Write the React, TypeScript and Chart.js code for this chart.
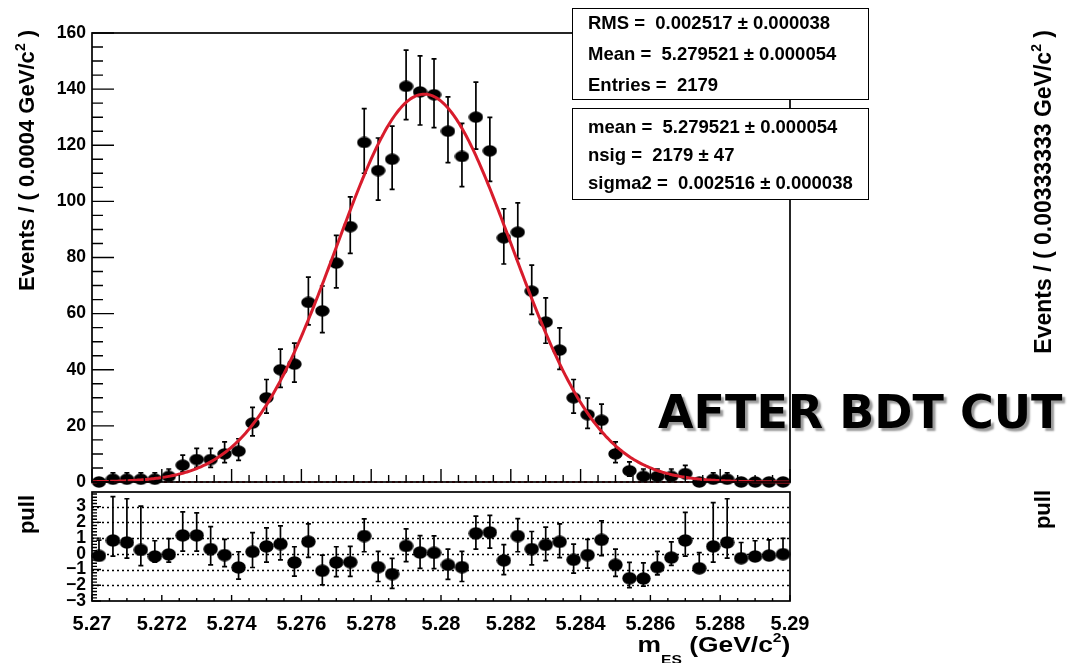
import React, { useEffect, useRef } from "react";
import { Chart, registerables } from "chart.js";

Chart.register(...registerables);

const FONT = "'Liberation Sans', Arial, Helvetica, sans-serif";
const RED = "#d81c2c";

// m_ES bin centres (GeV/c^2): 50 bins of 0.0004 between 5.27 and 5.29
const binCenters = [
  5.2702, 5.2706, 5.271, 5.2714, 5.2718, 5.2722, 5.2726, 5.273, 5.2734, 5.2738,
  5.2742, 5.2746, 5.275, 5.2754, 5.2758, 5.2762, 5.2766, 5.277, 5.2774, 5.2778,
  5.2782, 5.2786, 5.279, 5.2794, 5.2798, 5.2802, 5.2806, 5.281, 5.2814, 5.2818,
  5.2822, 5.2826, 5.283, 5.2834, 5.2838, 5.2842, 5.2846, 5.285, 5.2854, 5.2858,
  5.2862, 5.2866, 5.287, 5.2874, 5.2878, 5.2882, 5.2886, 5.289, 5.2894, 5.2898,
];

// events per bin
const counts = [
  0, 1, 1, 1, 1, 2, 6, 8, 8, 10,
  11, 21, 30, 40, 42, 64, 61, 78, 91, 121,
  111, 115, 141, 139, 138, 125, 116, 130, 118, 87,
  89, 68, 57, 47, 30, 24, 22, 10, 4, 2,
  2, 2, 3, 0, 1, 1, 0, 0, 0, 0,
];

// asymmetric Poisson errors on the counts
const countErrLow = [
  0, 0.83, 0.83, 0.83, 0.83, 1.29, 2.38, 2.77, 2.77, 3.11,
  3.27, 4.55, 5.45, 6.29, 6.44, 7.98, 7.79, 8.8, 9.52, 10.98,
  10.53, 10.72, 11.87, 11.79, 11.74, 11.18, 10.77, 11.4, 10.86, 9.32,
  9.43, 8.24, 7.55, 6.85, 5.45, 4.86, 4.65, 3.11, 1.91, 1.29,
  1.29, 1.29, 1.63, 0, 0.83, 0.83, 0, 0, 0, 0,
];
const countErrHigh = [
  1.15, 2.3, 2.3, 2.3, 2.3, 2.64, 3.58, 3.95, 3.95, 4.27,
  4.42, 5.62, 6.52, 7.35, 7.51, 9.04, 8.85, 9.86, 10.58, 12.04,
  11.59, 11.78, 12.93, 12.85, 12.8, 12.24, 11.83, 12.46, 11.92, 10.38,
  10.49, 9.3, 8.61, 7.91, 6.52, 5.93, 5.72, 4.27, 3.16, 2.64,
  2.64, 2.64, 2.92, 1.15, 2.3, 2.3, 1.15, 1.15, 1.15, 1.15,
];

// pull per bin and its error bars
const pulls = [
  -0.13, 0.85, 0.72, 0.25, -0.17, -0.04, 1.17, 1.17, 0.3, -0.08,
  -0.87, 0.13, 0.47, 0.62, -0.55, 0.77, -1.08, -0.55, -0.53, 1.13,
  -0.85, -1.29, 0.5, 0.08, 0.06, -0.7, -0.85, 1.3, 1.36, -0.42,
  1.13, 0.3, 0.57, 0.76, -0.38, -0.08, 0.89, -0.7, -1.55, -1.57,
  -0.85, -0.24, 0.85, -0.92, 0.47, 0.72, -0.28, -0.17, -0.11, -0.02,
];
const pullErrLow = [
  0, 1, 1, 1, 0.36, 0.49, 1, 1, 1, 0.73,
  0.74, 1, 1, 1, 0.87, 1, 0.89, 0.9, 0.9, 1,
  0.91, 0.91, 1, 1, 1, 0.92, 0.91, 1, 1, 0.9,
  1, 1, 1, 1, 0.85, 0.83, 1, 0.73, 0.6, 0.49,
  0.49, 0.49, 1, 0, 1, 1, 0, 0, 0, 0,
];
const pullErrHigh = [
  1, 2.78, 2.78, 2.78, 1, 1, 1.5, 1.43, 1.43, 1,
  1, 1.22, 1.18, 1.16, 1, 1.13, 1, 1, 1, 1.09,
  1, 1, 1.08, 1.08, 1.08, 1, 1, 1.09, 1.09, 1,
  1.11, 1.12, 1.13, 1.14, 1, 1, 1.21, 1, 1, 1,
  1, 1, 1.79, 1, 2.78, 2.78, 1, 1, 1, 1,
];

const eventTicks = [0, 20, 40, 60, 80, 100, 120, 140, 160];
const pullTicks = [-3, -2, -1, 0, 1, 2, 3];
const pullGridLines = [-2, -1, 0, 1, 2, 3];
const massTicks = [5.27, 5.272, 5.274, 5.276, 5.278, 5.28, 5.282, 5.284, 5.286, 5.288, 5.29];
const massTickLabels = ["5.27", "5.272", "5.274", "5.276", "5.278", "5.28", "5.282", "5.284", "5.286", "5.288", "5.29"];

// fit result
const massMin = 5.27;
const massMax = 5.29;
const binWidth = 0.0004;
const fitMean = 5.279521;
const fitSigma = 0.002516;
const fitYield = 2179;

// Gaussian signal shape scaled to events per bin
function fitCurve() {
  const norm = (fitYield * binWidth) / (fitSigma * Math.sqrt(2 * Math.PI));
  const pts: { x: number; y: number }[] = [];
  const n = 500;
  for (let i = 0; i <= n; i++) {
    const x = massMin + ((massMax - massMin) * i) / n;
    const z = (x - fitMean) / fitSigma;
    pts.push({ x, y: norm * Math.exp(-0.5 * z * z) });
  }
  return pts;
}

function range(from: number, to: number, step: number) {
  const out: number[] = [];
  const n = Math.round((to - from) / step);
  for (let i = 0; i <= n; i++) out.push(+(from + i * step).toFixed(6));
  return out;
}

// slightly wide filled marker, as on the stretched ROOT canvas
function makeMarker(w: number, h: number) {
  const c = document.createElement("canvas");
  c.width = w;
  c.height = h;
  const g = c.getContext("2d")!;
  g.fillStyle = "#000";
  g.beginPath();
  g.ellipse(w / 2, h / 2, w / 2 - 0.3, h / 2 - 0.3, 0, 0, Math.PI * 2);
  g.fill();
  return c;
}

function errorBarPlugin(lo: number[], hi: number[], ys: number[]) {
  return {
    id: "errorBars",
    beforeDatasetsDraw(chart: any) {
      const { ctx } = chart;
      const x = chart.scales.x;
      const y = chart.scales.y;
      ctx.save();
      ctx.strokeStyle = "#000";
      ctx.lineWidth = 1.7;
      ctx.beginPath();
      for (let i = 0; i < binCenters.length; i++) {
        const px = x.getPixelForValue(binCenters[i]);
        const top = y.getPixelForValue(ys[i] + hi[i]);
        const bot = y.getPixelForValue(ys[i] - lo[i]);
        ctx.moveTo(px, top);
        ctx.lineTo(px, bot);
        if (hi[i] > 0) {
          ctx.moveTo(px - 2.5, top);
          ctx.lineTo(px + 2.5, top);
        }
        if (lo[i] > 0) {
          ctx.moveTo(px - 2.5, bot);
          ctx.lineTo(px + 2.5, bot);
        }
      }
      ctx.stroke();
      ctx.restore();
    },
  };
}

type FrameSpec = {
  yMajor: number[];
  yMinor: number[];
  yMajorLen: number;
  yMinorLen: number;
  xMajor: number[];
  xMinor: number[];
  xMajorLen: number;
  xMinorLen: number;
  dotted?: number[];
};

function framePlugin(spec: FrameSpec) {
  return {
    id: "rootFrame",
    beforeDatasetsDraw(chart: any) {
      if (!spec.dotted) return;
      const { ctx, chartArea } = chart;
      const y = chart.scales.y;
      ctx.save();
      ctx.strokeStyle = "#000";
      ctx.lineWidth = 1.3;
      ctx.setLineDash([2, 3]);
      for (const v of spec.dotted) {
        const py = Math.round(y.getPixelForValue(v)) + 0.5;
        ctx.beginPath();
        ctx.moveTo(chartArea.left, py);
        ctx.lineTo(chartArea.right, py);
        ctx.stroke();
      }
      ctx.restore();
    },
    afterDraw(chart: any) {
      const { ctx, chartArea } = chart;
      const x = chart.scales.x;
      const y = chart.scales.y;
      const { left, right, top, bottom } = chartArea;
      ctx.save();
      ctx.strokeStyle = "#000";
      ctx.lineWidth = 1.4;
      ctx.beginPath();
      for (const v of spec.yMinor) {
        const py = y.getPixelForValue(v);
        ctx.moveTo(left, py);
        ctx.lineTo(left + spec.yMinorLen, py);
      }
      for (const v of spec.yMajor) {
        const py = y.getPixelForValue(v);
        ctx.moveTo(left, py);
        ctx.lineTo(left + spec.yMajorLen, py);
      }
      for (const v of spec.xMinor) {
        const px = x.getPixelForValue(v);
        ctx.moveTo(px, bottom);
        ctx.lineTo(px, bottom - spec.xMinorLen);
      }
      for (const v of spec.xMajor) {
        const px = x.getPixelForValue(v);
        ctx.moveTo(px, bottom);
        ctx.lineTo(px, bottom - spec.xMajorLen);
      }
      ctx.stroke();
      ctx.lineWidth = 1.7;
      ctx.strokeRect(left, top, right - left, bottom - top);
      ctx.restore();
    },
  };
}

const W = 1069;
const H = 663;
const PLOT_LEFT = 92;
const PLOT_RIGHT = 790;

const yTickFont = { family: FONT, weight: "bold" as const, size: 17.5 };
const xTickFont = { family: FONT, weight: "bold" as const, size: 20 };

function EventsChart() {
  const ref = useRef<HTMLCanvasElement>(null);
  useEffect(() => {
    const marker = makeMarker(15, 12);
    const chart = new Chart(ref.current!, {
      type: "scatter",
      data: {
        datasets: [
          {
            label: "fit",
            data: fitCurve(),
            showLine: true,
            borderColor: RED,
            borderWidth: 3,
            pointRadius: 0,
            clip: false,
          } as any,
          {
            label: "data",
            data: binCenters.map((x, i) => ({ x, y: counts[i] })),
            pointStyle: marker,
            pointRadius: 6,
            clip: false,
          } as any,
          {
            label: "background",
            data: [
              { x: massMin, y: 0 },
              { x: massMax, y: 0 },
            ],
            showLine: true,
            borderColor: RED,
            borderWidth: 2,
            borderDash: [3, 3],
            pointRadius: 0,
            clip: false,
          } as any,
        ],
      },
      options: {
        animation: false,
        responsive: false,
        events: [],
        layout: { padding: { left: 0, top: 33, right: W - PLOT_RIGHT, bottom: H - 482 } },
        plugins: { legend: { display: false }, tooltip: { enabled: false } },
        scales: {
          x: { type: "linear", min: massMin, max: massMax, display: false },
          y: {
            type: "linear",
            min: 0,
            max: 160,
            afterFit: (s: any) => {
              s.width = PLOT_LEFT;
            },
            afterBuildTicks: (s: any) => {
              s.ticks = eventTicks.map((value) => ({ value }));
            },
            grid: { display: false, drawTicks: false },
            border: { display: false },
            ticks: { font: yTickFont, color: "#000", padding: 6, autoSkip: false },
          },
        },
      },
      plugins: [
        errorBarPlugin(countErrLow, countErrHigh, counts),
        framePlugin({
          yMajor: eventTicks,
          yMinor: range(0, 160, 5),
          yMajorLen: 22,
          yMinorLen: 11,
          xMajor: massTicks,
          xMinor: range(massMin, massMax, 0.0005),
          xMajorLen: 13,
          xMinorLen: 7,
        }),
      ],
    });
    return () => chart.destroy();
  }, []);
  return (
    <canvas
      ref={ref}
      width={W}
      height={H}
      style={{ position: "absolute", left: 0, top: 0, width: W, height: H }}
    />
  );
}

function PullChart() {
  const ref = useRef<HTMLCanvasElement>(null);
  useEffect(() => {
    const marker = makeMarker(15, 13);
    const chart = new Chart(ref.current!, {
      type: "scatter",
      data: {
        datasets: [
          {
            label: "pull",
            data: binCenters.map((x, i) => ({ x, y: pulls[i] })),
            pointStyle: marker,
            pointRadius: 6,
            clip: false,
          } as any,
        ],
      },
      options: {
        animation: false,
        responsive: false,
        events: [],
        layout: { padding: { left: 0, top: 492, right: W - PLOT_RIGHT, bottom: 0 } },
        plugins: { legend: { display: false }, tooltip: { enabled: false } },
        scales: {
          x: {
            type: "linear",
            min: massMin,
            max: massMax,
            afterFit: (s: any) => {
              s.height = H - 601;
            },
            afterBuildTicks: (s: any) => {
              s.ticks = massTicks.map((value) => ({ value }));
            },
            grid: { display: false, drawTicks: false },
            border: { display: false },
            ticks: {
              font: xTickFont,
              color: "#000",
              padding: 11,
              autoSkip: false,
              maxRotation: 0,
              callback: (_v: any, i: number) => massTickLabels[i],
            },
          },
          y: {
            type: "linear",
            min: -3,
            max: 3.93,
            afterFit: (s: any) => {
              s.width = PLOT_LEFT;
            },
            afterBuildTicks: (s: any) => {
              s.ticks = pullTicks.map((value) => ({ value }));
            },
            grid: { display: false, drawTicks: false },
            border: { display: false },
            ticks: {
              font: yTickFont,
              color: "#000",
              padding: 6,
              autoSkip: false,
              callback: (v: any) => (v < 0 ? "\u2212" + Math.abs(v) : String(v)),
            },
          },
        },
      },
      plugins: [
        errorBarPlugin(pullErrLow, pullErrHigh, pulls),
        framePlugin({
          yMajor: pullTicks,
          yMinor: range(-3, 3.8, 0.2),
          yMajorLen: 9,
          yMinorLen: 5,
          xMajor: massTicks,
          xMinor: range(massMin, massMax, 0.0005),
          xMajorLen: 6,
          xMinorLen: 3,
          dotted: pullGridLines,
        }),
      ],
    });
    return () => chart.destroy();
  }, []);
  return (
    <canvas
      ref={ref}
      width={W}
      height={H}
      style={{ position: "absolute", left: 0, top: 0, width: W, height: H }}
    />
  );
}

// rotated axis title reading bottom-to-top, top end anchored at `top`
function VerticalTitle(props: { centerX: number; top: number; size?: number; children: React.ReactNode }) {
  const size = props.size ?? 22;
  return (
    <div
      style={{
        position: "absolute",
        left: props.centerX - size / 2,
        top: props.top,
        writingMode: "vertical-rl",
        transform: "rotate(180deg)",
        fontFamily: FONT,
        fontWeight: "bold",
        fontSize: size,
        lineHeight: 1,
        whiteSpace: "nowrap",
        color: "#000",
      }}
    >
      {props.children}
    </div>
  );
}

function Sup() {
  return <span style={{ fontSize: 14, position: "relative", left: 7 }}>2</span>;
}

const statsLeft = 572;
const statsWidth = 297;

function StatsBox(props: { top: number; height: number; lines: string[]; baselines: number[] }) {
  return (
    <>
      <div
        style={{
          position: "absolute",
          left: statsLeft,
          top: props.top,
          width: statsWidth,
          height: props.height,
          boxSizing: "border-box",
          border: "1.5px solid #000",
          background: "#fff",
        }}
      />
      {props.lines.map((t, i) => (
        <div
          key={i}
          style={{
            position: "absolute",
            left: 588,
            top: props.baselines[i] - 15.6,
            fontFamily: FONT,
            fontWeight: "bold",
            fontSize: 18.5,
            lineHeight: 1,
            whiteSpace: "pre",
            color: "#000",
          }}
        >
          {t}
        </div>
      ))}
    </>
  );
}

const histStats = ["RMS =  0.002517 \u00b1 0.000038", "Mean =  5.279521 \u00b1 0.000054", "Entries =  2179"];
const fitStats = ["mean =  5.279521 \u00b1 0.000054", "nsig =  2179 \u00b1 47", "sigma2 =  0.002516 \u00b1 0.000038"];

export default function App() {
  return (
    <div
      style={{
        position: "absolute",
        left: 0,
        top: 0,
        width: W,
        height: H,
        background: "#fff",
        overflow: "hidden",
      }}
    >
      <EventsChart />
      <PullChart />

      <VerticalTitle centerX={27} top={30}>
        Events / ( 0.0004 GeV/c<Sup /> )
      </VerticalTitle>
      <VerticalTitle centerX={27} top={495}>
        pull
      </VerticalTitle>
      <VerticalTitle centerX={1043} top={30} size={23}>
        Events / ( 0.00333333 GeV/c<Sup /> )
      </VerticalTitle>
      <VerticalTitle centerX={1043} top={490}>
        pull
      </VerticalTitle>

      <div
        style={{
          position: "absolute",
          right: W - PLOT_RIGHT,
          top: 634.4,
          fontFamily: FONT,
          fontWeight: "bold",
          fontSize: 22,
          lineHeight: 1,
          whiteSpace: "nowrap",
          color: "#000",
          transform: "scaleX(1.2)",
          transformOrigin: "right center",
        }}
      >
        m<span style={{ fontSize: 13, position: "relative", top: 12 }}>ES</span>
        {"  "}(GeV/c
        <span style={{ fontSize: 13, position: "relative", top: -10 }}>2</span>)
      </div>

      <StatsBox top={8} height={92} lines={histStats} baselines={[30, 60.5, 91.5]} />
      <StatsBox top={108} height={92} lines={fitStats} baselines={[133.3, 161.7, 190]} />

      <div
        style={{
          position: "absolute",
          left: 658,
          top: 389,
          fontFamily: "'DejaVu Sans', sans-serif",
          fontWeight: "bold",
          fontSize: 46,
          lineHeight: 1,
          whiteSpace: "nowrap",
          color: "#000",
          textShadow: "3px 3px 2px rgba(0,0,0,0.4)",
        }}
      >
        AFTER BDT CUT
      </div>
    </div>
  );
}
